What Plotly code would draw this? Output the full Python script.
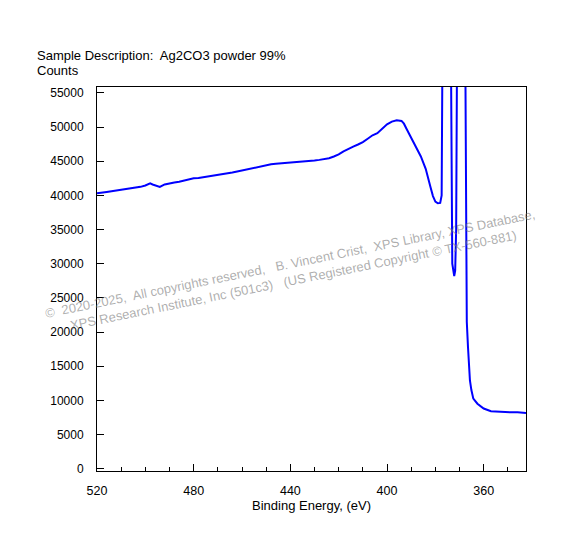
import plotly.graph_objects as go

# Ag2CO3 powder, Ag 3d region (counts)
binding_energy = [
    520, 518, 516, 514, 512, 510, 508, 506, 504, 502, 500, 498, 497, 496, 494,
    492, 490, 488, 486, 484, 482, 480, 478, 476, 474, 472, 470, 468, 466, 464,
    462, 460, 458, 456, 454, 452, 450, 448, 446, 444, 442, 440, 438, 436, 434,
    432, 430, 428, 426, 424, 422, 420, 418, 416, 414, 412, 410, 408, 406, 404,
    402, 400, 398, 396, 394, 393, 392, 390, 388, 386, 384, 383, 382, 381, 380,
    379, 378, 377.4, 377.1, 376.8, 376.4, 375.5, 374.6, 373.9, 373.6, 373.4,
    373.0, 372.2, 371.8, 371.4, 370.9, 370.3, 369.5, 368.5, 367.9, 367.6, 367.3,
    367.0, 366.5, 366.1, 365.7, 365.1, 364.3, 362.6, 360.0, 357.0, 354.0, 351.6,
    349.0, 346.0, 342.5,
]
counts = [
    40300, 40350, 40500, 40600, 40700, 40750, 40850, 40950, 41050, 41250, 41450,
    41750, 41600, 41500, 41250, 41600, 41800, 41900, 42000, 42200, 42350, 42500,
    42550, 42650, 42750, 42900, 43000, 43100, 43250, 43350, 43500, 43650, 43800,
    44000, 44150, 44350, 44450, 44550, 44650, 44700, 44800, 44850, 44900, 44850,
    44950, 45000, 45100, 45200, 45300, 45450, 45700, 46000, 46450, 46850, 47150,
    47450, 47800, 48300, 48800, 49100, 49700, 50400, 50800, 51000, 50900, 50500,
    49800, 48400, 47100, 45700, 43900, 42700, 41200, 39900, 39100, 38850, 38900,
    40000, 49300, 65000, 110000, 160000, 130000, 80000, 56000, 42200, 30000,
    28200, 29000, 35000, 60000, 110000, 200000, 240000, 120000, 60000, 31500,
    21500, 17800, 14900, 12900, 11500, 10250, 9500, 8800, 8400, 8320, 8300,
    8250, 8250, 8150,
]

sample_title = "Sample Description:  Ag2CO3 powder 99%"
y_title = "Counts"
x_title = "Binding Energy, (eV)"
watermark = ("©  2020-2025,  All copyrights reserved,   B. Vincent Crist,  XPS Library, XPS Database,"
             "<br>XPS Research Institute, Inc (501c3)   (US Registered Copyright © TX-560-881)")

font_family = "Arial, Liberation Sans, sans-serif"

fig = go.Figure()
fig.add_trace(go.Scatter(x=binding_energy, y=counts, mode="lines",
                         line=dict(color="#0000ff", width=2), showlegend=False))

fig.update_layout(
    width=582, height=545,
    margin=dict(l=89, r=64, t=79, b=82),
    paper_bgcolor="white", plot_bgcolor="white",
    font=dict(family=font_family, size=13, color="black"),
)
fig.update_xaxes(
    range=[520, 342.5], tick0=0, dtick=40, ticks="inside", ticklen=7,
    tickcolor="black", showgrid=False, zeroline=False,
    showline=True, linecolor="black", linewidth=1, mirror=True,
    minor=dict(dtick=10, ticks="inside", ticklen=4, tickcolor="black", showgrid=False),
    ticklabelstandoff=8, tickfont=dict(size=12.5),
    title=dict(text=x_title, standoff=2, font=dict(size=13)),
)
fig.update_yaxes(
    range=[-350, 55870], tick0=0, dtick=5000, ticks="inside", ticklen=7,
    tickcolor="black", showgrid=False, zeroline=False, tickformat="d",
    showline=True, linecolor="black", linewidth=1, mirror=True,
    ticklabelstandoff=10, tickfont=dict(size=12),
)

fig.add_annotation(text=sample_title, xref="paper", yref="paper", x=-0.145, y=1.0826,
                   xanchor="left", yanchor="middle", showarrow=False)
fig.add_annotation(text=y_title, xref="paper", yref="paper", x=-0.145, y=1.0417,
                   xanchor="left", yanchor="middle", showarrow=False)
fig.add_annotation(text=watermark, xref="paper", yref="paper", x=0.455, y=0.517,
                   xanchor="center", yanchor="middle", showarrow=False, textangle=-11.5,
                   font=dict(size=13, color="rgba(120,120,120,0.6)"), align="center")

fig.write_html("out.html")
